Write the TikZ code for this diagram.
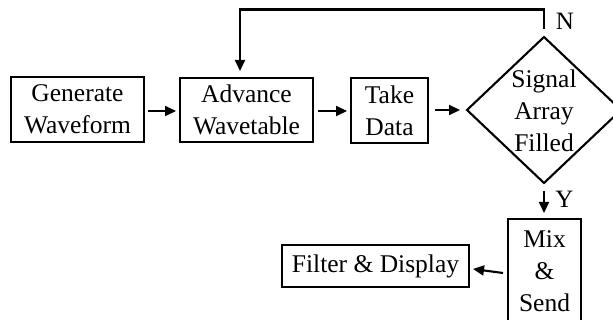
\documentclass[tikz,border=0pt]{standalone}
\usepackage{fontspec}
\setmainfont{Liberation Serif}
\usetikzlibrary{arrows.meta,shapes.geometric}
\tikzset{
  box/.style={draw, line width=2.1pt, rectangle, inner sep=0pt, outer sep=0pt, align=center},
  arr/.style={line width=2.1pt, -{Triangle[length=11pt,width=10pt]}},
  lbl/.style={inner sep=0pt, font=\fontsize{25}{32}\selectfont}
}
\begin{document}
\begin{tikzpicture}[x=1pt,y=-1pt, font=\fontsize{25.5}{32}\selectfont]
\clip (0,0) rectangle (613,320);
\useasboundingbox (0,0) rectangle (613,320);
\node[box, minimum width=133pt, minimum height=65pt] (gen) at (77.5,109.5) {Generate\\Waveform};
\node[box, minimum width=133pt, minimum height=64pt] (adv) at (246.5,110) {Advance\\Wavetable};
\node[box, minimum width=77pt, minimum height=65pt] (take) at (389.5,110.5) {Take\\Data};
\node[diamond, draw, line width=2.1pt, minimum width=154pt, minimum height=146pt, inner sep=0pt, outer sep=0pt] (dec) at (544,110) {};
\node[align=center, inner sep=0pt] (dectxt) at (544,111) {Signal\\Array\\Filled};
\node[box, minimum width=73pt, minimum height=104pt] (mix) at (544.5,271) {Mix\\\&\\Send};
\node[box, minimum width=187pt, minimum height=42pt] (fil) at (375.5,266) {Filter \& Display};
\node[lbl] (nlab) at (565,21.5) {N};
\node[lbl] (ylab) at (564.5,199.5) {Y};

\draw[arr] ([xshift=4pt,yshift=-1.5pt]gen.east) -- ([xshift=-4pt,yshift=-1pt]adv.west);
\draw[arr] ([xshift=5pt,yshift=-1pt]adv.east) -- ([xshift=-4pt,yshift=-0.5pt]take.west);
\draw[arr] ([xshift=7pt]take.east |- dec.west) -- ([xshift=-7pt]dec.west);
\draw[line width=2.1pt] ([yshift=8pt]dec.north) -- ([yshift=27.5pt]dec.north) -| ([xshift=-6.5pt]adv.north |- dec.north);
\draw[arr] ([xshift=-6.5pt,yshift=27.5pt]adv.north |- dec.north) -- ([xshift=-6.5pt,yshift=7pt]adv.north);
\draw[arr] ([yshift=-8pt]dec.south) -- ([xshift=-0.5pt,yshift=6pt]mix.north);
\draw[arr] ([xshift=-5pt,yshift=-2pt]mix.west) -- ([xshift=4pt,yshift=-3pt]fil.east);
\end{tikzpicture}
\end{document}
